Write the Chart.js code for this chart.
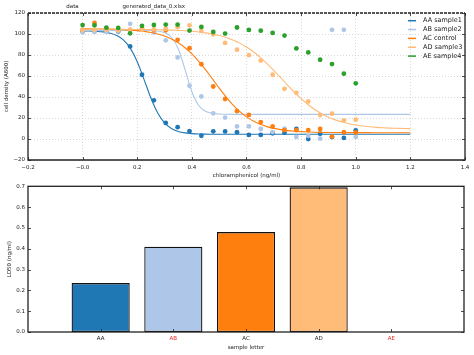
<!DOCTYPE html>
<html><head><meta charset="utf-8">
<script src="https://cdn.jsdelivr.net/npm/chart.js@4"></script>
<style>
html,body{margin:0;padding:0;background:#fff;width:474px;height:355px;overflow:hidden}
#top{position:absolute;left:0;top:0;width:474px;height:180px}
#bot{position:absolute;left:0;top:180px;width:474px;height:175px}
</style></head><body>
<div id="top"><canvas id="c1" width="474" height="180"></canvas></div>
<div id="bot"><canvas id="c2" width="474" height="175"></canvas></div>
<script>
// ---- data ----
const sampleLetters = ['AA','AB','AC','AD','AE'];
const seriesNames = ['AA sample1','AB sample2','AC control','AD sample3','AE sample4'];
const failedFits = ['AB','AE'];
const colors = ['#1f77b4','#aec7e8','#ff7f0e','#ffbb78','#2ca02c'];

const doseX = [0, 0.0435, 0.087, 0.1304, 0.1739, 0.2174, 0.2609, 0.3043, 0.3478, 0.3913, 0.4348, 0.4783,
               0.5217, 0.5652, 0.6087, 0.6522, 0.6957, 0.7391, 0.7826, 0.8261, 0.8696, 0.913, 0.9565, 1.0];
const aaPts = [102.5, 103, 102.5, 102.5, 88.2, 61.2, 36.8, 15.3, 11.3, 7.5, 3.1, 7.3, 7.2, 6.5, 3.9, 3.9, 5.4, 6, 9.6, 0, 5, 1.9, 1, 8.3];
const abPts = [101.5, 102, 102, 103, 109.7, 104, 101.5, 94, 77.7, 50.7, 40.5, 24.5, 20.4, 12, 12, 9.5, 6.6, 9.8, 2, 3, 0.3, 104, 104, 2];
const acPts = [104, 110.5, 105, 104, 104, 105, 104, 103.5, 94.5, 86.5, 71.2, 50, 38.1, 26.5, 22.9, 16.1, 11.9, 8.5, 8.4, 8.5, 9.5, 2.3, 6.5, 6.2];
const adPts = [103.5, 104, 104, 103.5, 104, 104, 104.5, 105, 106.5, 108.3, 103, 99.6, 91.5, 85.1, 79.8, 74.7, 61.2, 47.8, 44, 35.8, 22.8, 24.1, 17.8, 18.4];
const aePts = [108.5, 108.3, 106, 105.8, 100.6, 107.8, 108.6, 109, 109, 103.3, 106.7, 101.9, 100.4, 106.2, 103.9, 103.2, 101, 98.5, 86.3, 82.5, 75.5, 71.4, 62.2, 53];

const fitX = [0,0.025,0.05,0.075,0.1,0.125,0.15,0.175,0.2,0.225,0.25,0.275,0.3,0.325,0.35,0.375,0.4,0.425,0.45,0.475,
              0.5,0.525,0.55,0.575,0.6,0.625,0.65,0.675,0.7,0.725,0.75,0.775,0.8,0.825,0.85,0.875,0.9,0.925,0.95,0.975,
              1.0,1.025,1.05,1.075,1.1,1.125,1.15,1.175,1.2];
const aaFit = [102.9,102.8,102.5,102.0,100.8,98.6,94.2,86.3,73.6,56.6,39.0,24.7,15.3,10.0,7.2,5.8,5.1,4.7,4.6,4.55,
               4.5,4.5,4.5,4.5,4.5,4.5,4.5,4.5,4.5,4.5,4.5,4.5,4.5,4.5,4.5,4.5,4.5,4.5,4.5,4.5,
               4.5,4.5,4.5,4.5,4.5,4.5,4.5,4.5,4.5];
const abFit = [103.5,103.5,103.5,103.5,103.5,103.5,103.5,103.5,103.5,103.5,103.3,102.8,101.3,96.9,86.0,66.2,45.0,31.9,26.4,24.5,
               23.8,23.6,23.5,23.5,23.5,23.5,23.5,23.5,23.5,23.5,23.5,23.5,23.5,23.5,23.5,23.5,23.5,23.5,23.5,23.5,
               23.5,23.5,23.5,23.5,23.5,23.5,23.5,23.5,23.5];
const acFit = [104.9,104.85,104.8,104.7,104.6,104.4,104.1,103.7,103.2,102.5,101.4,100.0,98.0,95.3,91.6,86.9,81.1,74.0,66.0,57.3,
               48.5,40.1,32.6,26.3,21.1,17.1,14.0,11.8,10.1,8.9,8.0,7.4,7.0,6.7,6.5,6.35,6.25,6.17,6.12,6.08,
               6.06,6.04,6.03,6.0,6.0,6.0,6.0,6.0,6.0];
const adFit = [104.5,104.5,104.5,104.5,104.5,104.45,104.4,104.35,104.3,104.25,104.2,104.05,103.9,103.7,103.4,103.1,102.6,101.95,101.1,100.0,
               98.5,96.7,94.3,91.3,87.6,83.1,77.8,71.8,65.3,58.4,51.4,44.7,38.5,32.9,28.1,24.1,20.8,18.2,16.1,14.55,
               13.3,12.36,11.65,11.1,10.7,10.4,10.2,10.0,9.9];

const ld50 = [0.235, 0.41, 0.48, 0.695, null];

// ---- helpers ----
const FONT = 'DejaVu Sans';
Chart.defaults.font.family = FONT;
Chart.defaults.font.size = 5.5;
Chart.defaults.color = '#222';
const minus = s => String(s).replace('-', '\u2212');

const pointSets = [aaPts, abPts, acPts, adPts, aePts];
const fitSets = [aaFit, abFit, acFit, adFit];

const datasets = [];
pointSets.forEach((arr, k) => {
  datasets.push({
    type: 'scatter', label: seriesNames[k],
    data: doseX.map((x, i) => ({x, y: arr[i]})),
    backgroundColor: colors[k], borderColor: colors[k], borderWidth: 0,
    pointRadius: 2.4, pointHoverRadius: 2.4, showLine: false, order: 20 - 2 * k
  });
  if (k < fitSets.length) {
    datasets.push({
      type: 'line', label: seriesNames[k] + ' fit',
      data: fitX.map((x, i) => ({x, y: fitSets[k][i]})),
      borderColor: colors[k], borderWidth: 1.1, pointRadius: 0, fill: false,
      cubicInterpolationMode: 'monotone', order: 19 - 2 * k
    });
  }
});

function inwardTicks(chart, len, skipEnds) {
  const {ctx, chartArea: a, scales: {x, y}} = chart;
  ctx.save();
  ctx.strokeStyle = '#222'; ctx.lineWidth = 0.8;
  ctx.beginPath();
  x.ticks.forEach((t, i) => {
    if (skipEnds && (i === 0 || i === x.ticks.length - 1)) return;
    const px = Math.round(x.getPixelForTick(i)) + 0.5;
    ctx.moveTo(px, a.bottom); ctx.lineTo(px, a.bottom - len);
    ctx.moveTo(px, a.top); ctx.lineTo(px, a.top + len);
  });
  y.ticks.forEach((t, i) => {
    const py = Math.round(y.getPixelForTick(i)) + 0.5;
    ctx.moveTo(a.left, py); ctx.lineTo(a.left + len, py);
    ctx.moveTo(a.right, py); ctx.lineTo(a.right - len, py);
  });
  ctx.stroke();
  ctx.restore();
}

const topDecor = {
  id: 'topDecor',
  afterDraw(chart) {
    const {ctx, chartArea: a} = chart;
    inwardTicks(chart, 3, false);
    ctx.save();
    ctx.strokeStyle = '#222'; ctx.lineWidth = 1.3;
    ctx.beginPath();
    ctx.moveTo(a.left, a.top); ctx.lineTo(a.left, a.bottom); ctx.lineTo(a.right, a.bottom); ctx.lineTo(a.right, a.top);
    ctx.stroke();
    ctx.setLineDash([3, 1]);
    ctx.lineWidth = 1.6;
    ctx.beginPath(); ctx.moveTo(a.left, a.top); ctx.lineTo(a.right, a.top); ctx.stroke();
    ctx.setLineDash([]);
    // titles above the plot
    ctx.fillStyle = '#222';
    ctx.font = '5.5px "' + FONT + '"';
    ctx.textAlign = 'center'; ctx.textBaseline = 'middle';
    ctx.fillText('data', 72.5, 7);
    ctx.fillText('generated_data_0.xlsx', 153.8, 7);
    // legend inside the axes
    ctx.font = '6.5px "' + FONT + '"';
    ctx.textAlign = 'left';
    seriesNames.forEach((n, i) => {
      const yy = 20.7 + i * 8.85;
      ctx.strokeStyle = colors[i]; ctx.lineWidth = 1.5;
      ctx.beginPath(); ctx.moveTo(408, yy); ctx.lineTo(416, yy); ctx.stroke();
      ctx.fillStyle = '#222';
      ctx.fillText(n, 423, yy);
    });
    ctx.restore();
  }
};

new Chart(document.getElementById('c1'), {
  type: 'scatter',
  data: {datasets},
  options: {
    responsive: false, animation: false,
    layout: {padding: {top: 13, right: 9, left: 0, bottom: 0}},
    plugins: {legend: {display: false}, tooltip: {enabled: false}},
    scales: {
      x: {
        type: 'linear', min: -0.2, max: 1.4,
        ticks: {stepSize: 0.2, padding: 4, maxRotation: 0, callback: v => minus(Number(v).toFixed(1))},
        grid: {color: '#c8c8c8', lineWidth: 0.7, drawTicks: false},
        border: {display: false, dash: [1, 2]},
        title: {display: true, text: 'chloramphenicol (ng/ml)', font: {size: 5.5}, padding: {top: 0, bottom: 1.2}},
        afterFit: s => { s.height = 20; }
      },
      y: {
        min: -20, max: 120,
        ticks: {stepSize: 20, padding: 3, callback: v => minus(v)},
        grid: {color: '#c8c8c8', lineWidth: 0.7, drawTicks: false},
        border: {display: false, dash: [1, 2]},
        title: {display: true, text: 'cell density (A600)', font: {size: 5.5}, padding: {top: 3.7, bottom: 0}},
        afterFit: s => { s.width = 28; }
      }
    }
  },
  plugins: [topDecor]
});

// ---- bottom bar chart ----
const barLabels = [''].concat(sampleLetters, ['']);
const barValues = [null].concat(ld50, [null]);
const barColors = ['rgba(0,0,0,0)'].concat(colors, ['rgba(0,0,0,0)']);

const botDecor = {
  id: 'botDecor',
  afterDraw(chart) {
    const {ctx, chartArea: a} = chart;
    inwardTicks(chart, 3, true);
    ctx.save();
    ctx.strokeStyle = '#222'; ctx.lineWidth = 1.3;
    ctx.strokeRect(a.left, a.top, a.right - a.left, a.bottom - a.top);
    ctx.restore();
  }
};

new Chart(document.getElementById('c2'), {
  type: 'bar',
  data: {
    labels: barLabels,
    datasets: [{
      data: barValues, backgroundColor: barColors, borderColor: '#111', borderWidth: 1.3,
      borderSkipped: false, barPercentage: 0.8, categoryPercentage: 1
    }]
  },
  options: {
    responsive: false, animation: false,
    layout: {padding: {top: 5, right: 10, left: 0, bottom: 0}},
    plugins: {legend: {display: false}, tooltip: {enabled: false}},
    scales: {
      x: {
        offset: false,
        ticks: {padding: 3.5, maxRotation: 0, autoSkip: false,
                color: c => failedFits.includes(barLabels[c.index]) ? '#e8261c' : '#222'},
        grid: {display: false, drawTicks: false},
        border: {display: false},
        title: {display: true, text: 'sample letter', font: {size: 5.5}, padding: {top: 0, bottom: 4.4}},
        afterFit: s => { s.height = 23; }
      },
      y: {
        min: 0, max: 0.7,
        ticks: {stepSize: 0.1, padding: 3, callback: v => Number(v).toFixed(1)},
        grid: {display: false, drawTicks: false},
        border: {display: false},
        title: {display: true, text: 'LD50 (ng/ml)', font: {size: 5.5}, padding: {top: 6.7, bottom: 0}},
        afterFit: s => { s.width = 28; }
      }
    }
  },
  plugins: [botDecor]
});
</script>
</body></html>
